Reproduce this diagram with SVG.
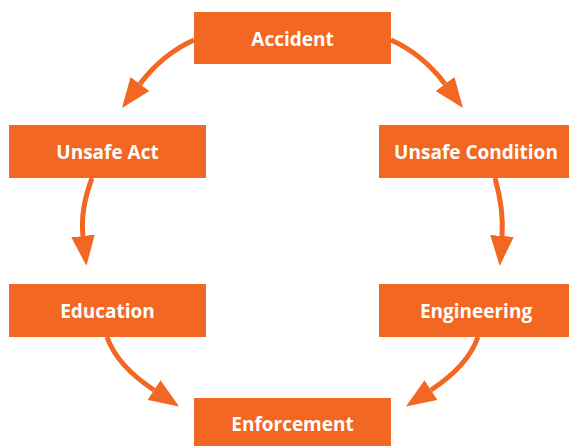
<svg xmlns="http://www.w3.org/2000/svg" width="571" height="446" viewBox="0 0 571 446">
<style>
.box{fill:#F26722}
.lbl{font-family:"Open Sans","Liberation Sans",sans-serif;font-weight:bold;font-size:19px;fill:#fff;text-anchor:middle}
.arr{fill:none;stroke:#F26722;stroke-width:5}
</style>
<defs>
<marker id="ah" markerUnits="userSpaceOnUse" markerWidth="30" markerHeight="24" refX="0" refY="11" orient="auto" viewBox="0 0 28 22">
<path d="M0,0 L28,11 L0,22 Z" fill="#F26722"/>
</marker>
</defs>
<rect width="571" height="446" fill="#fff"/>
<g id="connectors">
<path class="arr" d="M194,40 Q162.3,54.2 140,84" marker-end="url(#ah)"/>
<path class="arr" d="M391,40 Q422.7,54.2 445,84" marker-end="url(#ah)"/>
<path class="arr" d="M92,178 Q80,210 83,236" marker-end="url(#ah)"/>
<path class="arr" d="M495,178 Q504,210 502,236" marker-end="url(#ah)"/>
<path class="arr" d="M107,337 Q117.1,365.8 154,390" marker-end="url(#ah)"/>
<path class="arr" d="M478,337 Q467.9,365.8 431,390" marker-end="url(#ah)"/>
</g>
<g id="accident"><rect class="box" x="194" y="12" width="197" height="52"/><text class="lbl" x="292.5" y="46">Accident</text></g>
<g id="unsafe-act"><rect class="box" x="9" y="125" width="197" height="53"/><text class="lbl" x="107.5" y="159">Unsafe Act</text></g>
<g id="unsafe-condition"><rect class="box" x="379" y="125" width="190" height="53"/><text class="lbl" x="476" y="159">Unsafe Condition</text></g>
<g id="education"><rect class="box" x="9" y="284" width="197" height="53"/><text class="lbl" x="107.5" y="318">Education</text></g>
<g id="engineering"><rect class="box" x="379" y="284" width="190" height="53"/><text class="lbl" x="476" y="318">Engineering</text></g>
<g id="enforcement"><rect class="box" x="194" y="398" width="197" height="48"/><text class="lbl" x="292.5" y="431">Enforcement</text></g>
</svg>
